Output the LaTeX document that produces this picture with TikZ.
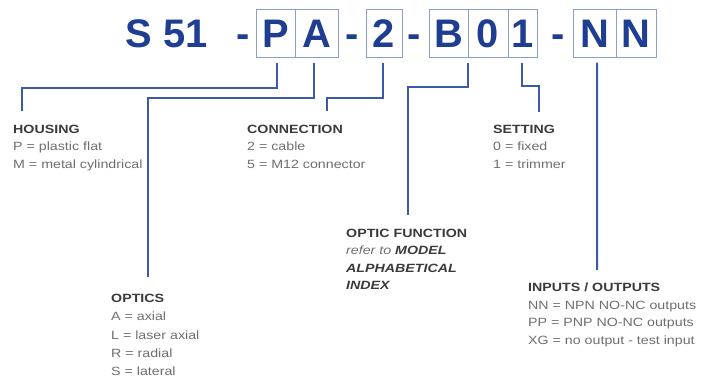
\documentclass[tikz,border=0pt]{standalone}
\usepackage{fontspec}
\setmainfont{Liberation Sans}
\newfontfamily\lblfont{Liberation Sans}[FakeStretch=1.19]
\definecolor{titleblue}{HTML}{1F3D91}
\definecolor{boxblue}{HTML}{8A9ED2}
\definecolor{lineblue}{HTML}{3B5BAA}
\definecolor{headgray}{HTML}{3A3A3A}
\definecolor{valgray}{HTML}{6E6E6E}
\begin{document}
\begin{tikzpicture}[x=1bp,y=-1bp,
 big/.style={font=\fontsize{40}{40}\selectfont\bfseries, text=titleblue, inner sep=0pt, text height=29bp, text depth=0bp},
 cell/.style={big, draw=boxblue, line width=1bp, minimum height=48bp},
 conn/.style={draw=lineblue, line width=2bp},
 lbl/.style={anchor=north west, align=left, inner sep=0pt, font=\lblfont\fontsize{12}{17.5}\selectfont, text=valgray}
]
\useasboundingbox (0,0) rectangle (709,378);
% title
\node[big] (s51) at (166.5,33) {S 51};
\node[big] (d1) at (243,33) {-};
\node[cell, minimum width=39bp] (P) at (275.5,33) {P};
\node[cell, minimum width=43bp] (A) at (316.5,33) {A};
\node[big] (d2) at (352,33) {-};
\node[cell, minimum width=36bp] (C2) at (384,33) {2};
\node[big] (d3) at (414.5,33) {-};
\node[cell, minimum width=39bp] (B) at (448.5,33) {B};
\node[cell, minimum width=40bp] (Z) at (488,33) {0};
\node[cell, minimum width=29bp] (O) at (522.5,33) {1};
\node[big] (d4) at (558,33) {-};
\node[cell, minimum width=43bp] (N1) at (594.5,33) {N};
\node[cell, minimum width=40bp] (N2) at (636,33) {N};
% labels
\node[lbl] (housing) at (13,125) {{\color{headgray}\bfseries HOUSING}\\P = plastic flat\\M = metal cylindrical};
\node[lbl] (connection) at (247,125) {{\color{headgray}\bfseries CONNECTION}\\2 = cable\\5 = M12 connector};
\node[lbl] (setting) at (493,125) {{\color{headgray}\bfseries SETTING}\\0 = fixed\\1 = trimmer};
\node[lbl] (optfun) at (346,229) {{\color{headgray}\bfseries OPTIC FUNCTION}\\\textit{refer to} {\color{headgray}\bfseries\itshape MODEL}\\{\color{headgray}\bfseries\itshape ALPHABETICAL}\\{\color{headgray}\bfseries\itshape INDEX}};
\node[lbl] (inout) at (528,283) {{\color{headgray}\bfseries INPUTS / OUTPUTS}\\NN = NPN NO-NC outputs\\PP = PNP NO-NC outputs\\XG = no output - test input};
\node[lbl, font=\lblfont\fontsize{12}{18.3}\selectfont] (optics) at (111,294) {{\color{headgray}\bfseries OPTICS}\\A = axial\\L = laser axial\\R = radial\\S = lateral};
% connector ends
\coordinate (eH) at (22,111);
\coordinate (eO) at (148,277);
\coordinate (eC) at (327,111);
\coordinate (eF) at (408,215);
\coordinate (eS) at (539,112);
\coordinate (eI) at (597,270);
% connectors
\draw[conn] ([yshift=-5bp,xshift=1.5bp]P.south) |- (22,88) -- (eH);
\draw[conn] ([yshift=-5bp,xshift=-2.5bp]A.south) |- (148,98) -- (eO);
\draw[conn] ([yshift=-5bp,xshift=-1bp]C2.south) |- (327,98) -- (eC);
\draw[conn] ([yshift=-5bp,xshift=-1bp]B.south east) |- (408,87) -- (eF);
\draw[conn] ([yshift=-5bp,xshift=-0.5bp]O.south) |- (539,86) -- (eS);
\draw[conn] ([yshift=-5bp,xshift=2.5bp]N1.south) -- (eI);
\end{tikzpicture}
\end{document}
